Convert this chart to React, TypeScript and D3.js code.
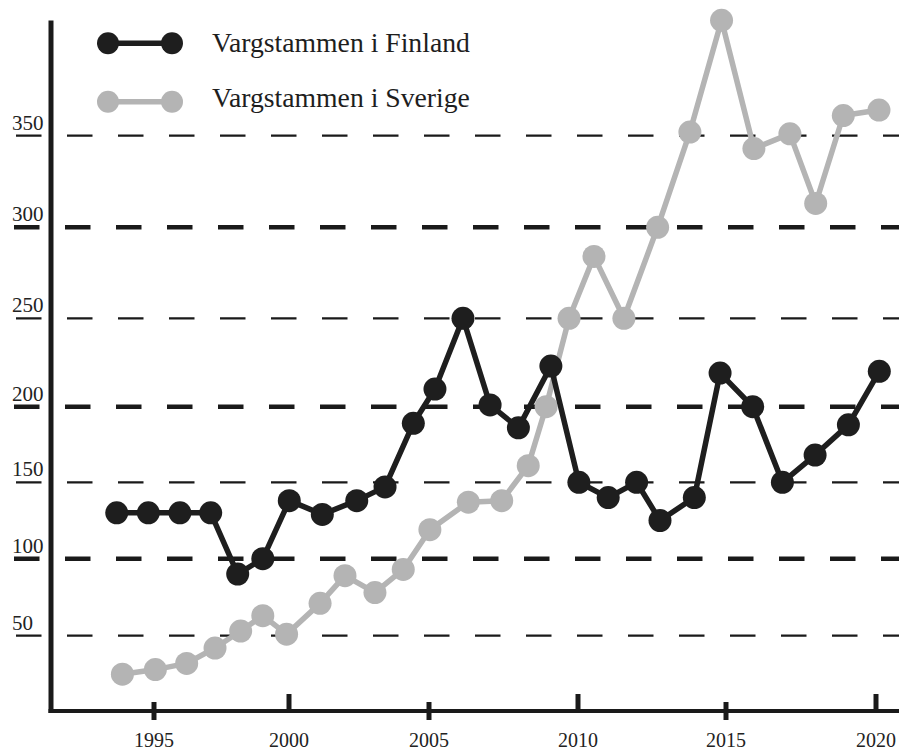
import React from 'react';
import * as d3 from 'd3';

// ---- data ----
const finlandYear = [1993.62, 1994.79, 1995.96, 1997.1, 1998.1, 1999.03, 2000.01, 2001.19, 2002.42, 2003.43, 2004.44, 2005.2, 2006.14, 2007.05, 2008.0, 2009.09, 2010.03, 2011.02, 2011.98, 2012.77, 2013.93, 2014.8, 2015.89, 2016.88, 2017.97, 2019.08, 2020.11];
const finlandCount = [130, 130, 130, 130, 90, 100, 138, 129, 138, 147, 189, 210, 250, 201, 186, 223, 150, 140, 150, 125, 140, 219, 200, 150, 168, 188, 220];
const swedenYear = [1993.83, 1995.05, 1996.21, 1997.26, 1998.21, 1999.03, 1999.91, 2001.11, 2002.0, 2003.07, 2004.08, 2005.03, 2006.32, 2007.44, 2008.33, 2008.93, 2009.7, 2010.54, 2011.55, 2012.69, 2013.78, 2014.85, 2015.93, 2017.13, 2017.99, 2018.91, 2020.1];
const swedenCount = [25, 28, 32, 42, 53, 63, 51, 71, 89, 78, 93, 119, 137, 138, 161, 200, 250, 284, 250, 300, 352, 413, 343, 351, 313, 361, 364];

const xTicks = [1995, 2000, 2005, 2010, 2015, 2020];
const yTicks = [50, 100, 150, 200, 250, 300, 350];
const seriesNames = ['Vargstammen i Finland', 'Vargstammen i Sverige'];
const seriesColors = ['#1e1e1e', '#b4b4b4'];

// ---- layout ----
const W = 899;
const H = 751;
const xRange = [154, 289, 429, 578, 726, 876];
const yRange = [635.7, 558.7, 482.3, 406.7, 318.3, 227.3, 135.7];
const axisX = 51;
const axisY = 711;
const legendY = [43.3, 101.7];
const legendTextY = [52, 106.5];
const FONT = '"Liberation Serif", serif';

export default function App() {
  const x = d3.scaleLinear().domain(xTicks).range(xRange);
  const y = d3.scaleLinear().domain(yTicks).range(yRange);

  const series = [
    finlandYear.map((yr, i) => [yr, finlandCount[i]] as [number, number]),
    swedenYear.map((yr, i) => [yr, swedenCount[i]] as [number, number]),
  ];
  const line = d3
    .line<[number, number]>()
    .x((d) => x(d[0]))
    .y((d) => y(d[1]));

  const drawOrder = [1, 0];

  return (
    <svg
      width={W}
      height={H}
      viewBox={`0 0 ${W} ${H}`}
      style={{ position: 'absolute', left: 0, top: 0, background: '#fff' }}
    >
      <rect x={0} y={0} width={W} height={H} fill="#fff" />
      {/* grid lines + labels */}
      {yTicks.map((v) => {
        const thick = v % 100 === 0;
        return (
          <g key={v}>
            <line
              x1={thick ? 14 : 16}
              x2={W}
              y1={y(v)}
              y2={y(v)}
              stroke="#1a1a1a"
              strokeWidth={thick ? 4.5 : 2.3}
              strokeDasharray="25.5 25.5"
            />
            <text x={12} y={y(v) - 6} fontFamily={FONT} fontSize={21} fill="#222">
              {v}
            </text>
          </g>
        );
      })}
      {/* axes */}
      <line x1={axisX} x2={axisX} y1={20.5} y2={axisY + 2} stroke="#1a1a1a" strokeWidth={5} />
      <line x1={axisX - 2.5} x2={W} y1={axisY} y2={axisY} stroke="#1a1a1a" strokeWidth={4} />
      {xTicks.map((t, i) => (
        <g key={t}>
          <line
            x1={x(t)}
            x2={x(t)}
            y1={i % 2 === 0 ? axisY - 9 : axisY - 17}
            y2={i % 2 === 0 ? axisY + 9 : axisY}
            stroke="#1a1a1a"
            strokeWidth={5}
          />
          <text x={x(t)} y={747} textAnchor="middle" fontFamily={FONT} fontSize={20} fill="#222">
            {t}
          </text>
        </g>
      ))}
      {/* series */}
      {drawOrder.map((si) => (
        <g key={si}>
          <path d={line(series[si]) || ''} fill="none" stroke={seriesColors[si]} strokeWidth={5.5} strokeLinejoin="round" />
          {series[si].map((d, j) => (
            <circle key={j} cx={x(d[0])} cy={y(d[1])} r={11.5} fill={seriesColors[si]} />
          ))}
        </g>
      ))}
      {/* legend */}
      {seriesNames.map((name, i) => {
        const ly = legendY[i];
        return (
          <g key={name}>
            <line x1={108} x2={172} y1={ly} y2={ly} stroke={seriesColors[i]} strokeWidth={5.5} />
            <circle cx={108} cy={ly} r={11} fill={seriesColors[i]} />
            <circle cx={172} cy={ly} r={11} fill={seriesColors[i]} />
            <text x={212} y={legendTextY[i]} fontFamily={FONT} fontSize={27.7} fill="#1e1e1e">
              {name}
            </text>
          </g>
        );
      })}
    </svg>
  );
}
